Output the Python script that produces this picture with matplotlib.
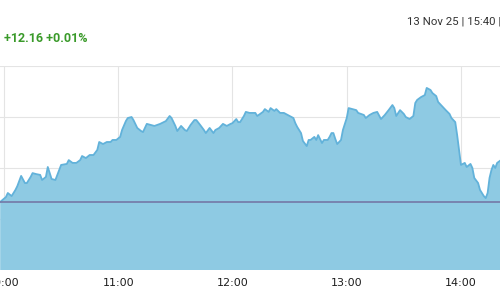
import matplotlib
matplotlib.use("Agg")
import matplotlib.pyplot as plt

# minutes since midnight, index level
times = [598, 601, 602, 604, 606, 607, 609, 611, 612, 614, 615, 617, 619, 620, 622, 623, 625, 627,
         628, 630, 633, 634, 636, 638, 640, 641, 643, 645, 647, 649, 650, 652, 654, 656, 657, 659,
         661, 662, 664, 665, 667, 668, 670, 672, 673, 675, 677, 679, 682, 685, 687, 688, 690, 691,
         693, 695, 696, 698, 700, 701, 703, 705, 706, 708, 710, 711, 713, 715, 717, 719, 720, 722,
         723, 724, 726, 727, 729, 732, 733, 736, 737, 739, 740, 742, 743, 745, 747, 749, 750, 752,
         753, 754, 756, 757, 759, 760, 761, 763, 764, 765, 767, 768, 770, 771, 772, 773, 774, 775,
         777, 778, 780, 781, 783, 785, 786, 789, 790, 792, 794, 796, 798, 800, 802, 804, 805, 806,
         808, 810, 811, 813, 815, 816, 817, 819, 821, 822, 824, 825, 827, 828, 830, 832, 834, 835,
         837, 838, 839, 840, 842, 843, 845, 846, 847, 849, 850, 852, 853, 854, 855, 856, 857, 858,
         859, 861]
level = [84467, 84486, 84502, 84490, 84514, 84529, 84569, 84541, 84541, 84565, 84580, 84576, 84573,
         84553, 84565, 84604, 84557, 84553, 84573, 84612, 84616, 84631, 84620, 84620, 84631, 84647,
         84639, 84651, 84651, 84671, 84702, 84694, 84702, 84702, 84710, 84710, 84722, 84749, 84784,
         84796, 84800, 84788, 84757, 84745, 84741, 84773, 84769, 84765, 84773, 84784, 84804, 84796,
         84765, 84745, 84765, 84749, 84745, 84769, 84788, 84788, 84769, 84749, 84737, 84757, 84737,
         84749, 84757, 84773, 84765, 84773, 84776, 84792, 84780, 84780, 84804, 84820, 84816, 84816,
         84804, 84820, 84831, 84820, 84835, 84824, 84831, 84816, 84816, 84808, 84804, 84796, 84776,
         84761, 84737, 84706, 84686, 84710, 84710, 84722, 84710, 84729, 84698, 84710, 84710, 84722,
         84737, 84737, 84714, 84694, 84710, 84749, 84796, 84835, 84831, 84827, 84816, 84808, 84796,
         84808, 84816, 84820, 84792, 84808, 84827, 84847, 84835, 84804, 84827, 84812, 84800, 84792,
         84804, 84855, 84867, 84878, 84886, 84914, 84906, 84894, 84882, 84859, 84843, 84827, 84812,
         84796, 84780, 84729, 84671, 84612, 84620, 84604, 84616, 84600, 84561, 84541, 84514, 84490,
         84482, 84502, 84561, 84592, 84612, 84600, 84620, 84631]

prev_close = 84466.51
tick_pos = [600, 660, 720, 780, 840]
tick_labels = ["10:00", "11:00", "12:00", "13:00", "14:00"]
grid_levels = [84400, 84600, 84800, 85000]
change_text = "+12.16 +0.01%"
date_text = "13 Nov 25 | 15:40 |"

fig = plt.figure(figsize=(5, 3), dpi=100)
ax = fig.add_axes([0, 0.1, 1, 0.68])

ax.fill_between(times, level, 84200, color="#8ecae3", lw=0, zorder=2)
ax.plot(times, level, color="#62b2da", lw=1.3, zorder=3)
ax.axhline(prev_close, color="#7478a6", lw=1.2, zorder=4)

ax.set_xlim(597.9, 860.5)
ax.set_ylim(84200, 85000)
ax.set_xticks(tick_pos)
ax.set_xticklabels(tick_labels)
ax.set_yticks(grid_levels)
ax.set_yticklabels([])
ax.tick_params(axis="both", length=0)
ax.tick_params(axis="x", labelsize=8, labelcolor="#1e1e1e", pad=6)
ax.grid(True, color="#e4e4e4", lw=0.8, zorder=1)
ax.set_axisbelow(True)
for s in ax.spines.values():
    s.set_visible(False)

fig.text(4 / 500, 1 - 39 / 300, change_text, color="#3a9a2a", family="Roboto",
         fontsize=9, fontweight="bold", va="center", ha="left")
fig.text(407 / 500, 1 - 22 / 300, date_text, color="#333333", family="Roboto",
         fontsize=8.2, va="center", ha="left")

fig.savefig("out.png", dpi=100)
